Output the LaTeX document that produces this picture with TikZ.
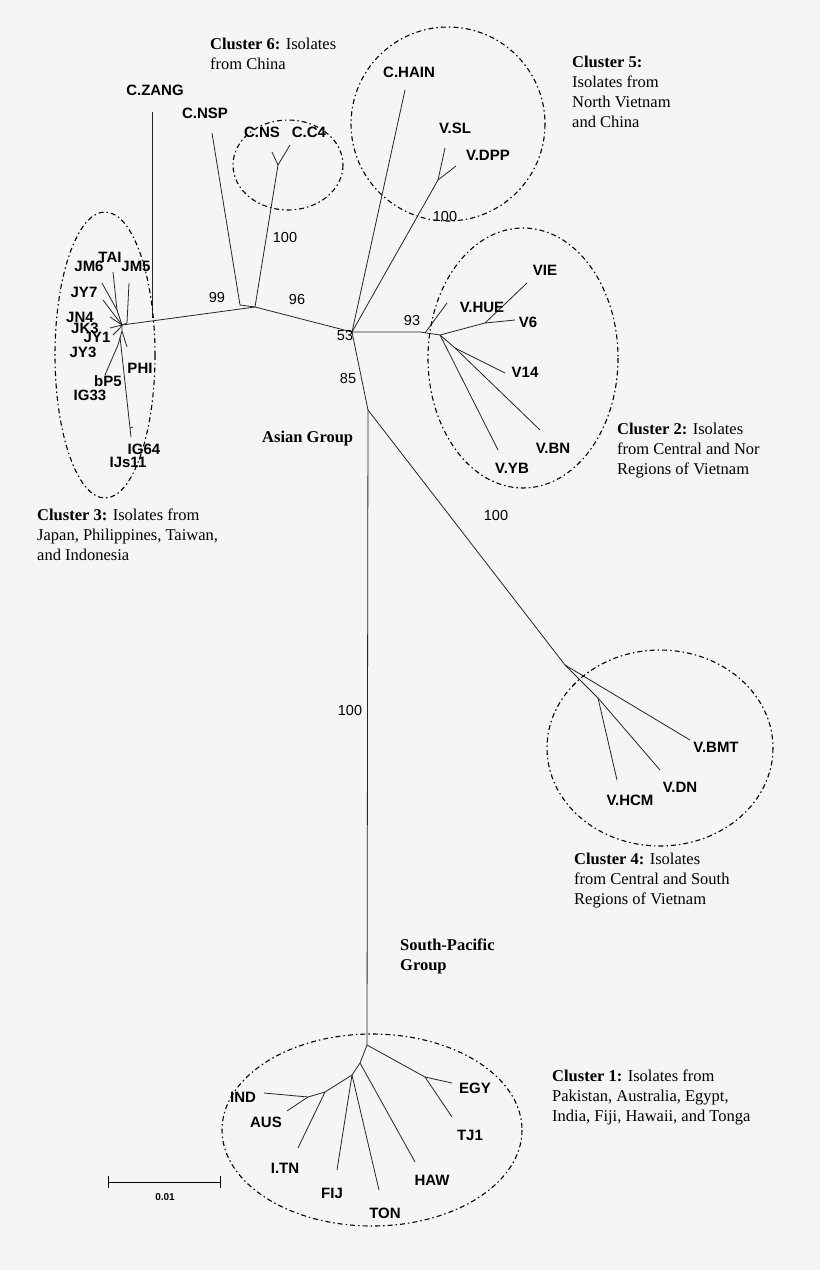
\documentclass[tikz,border=0pt]{standalone}
\usepackage{fontspec}
\setmainfont{Liberation Serif}
\setsansfont{Liberation Sans}
\begin{document}
\begin{tikzpicture}[x=1pt,y=-1pt,
 br/.style={line width=0.8pt,draw=black!85},
 lab/.style={font=\sffamily\bfseries\fontsize{15}{15}\selectfont,inner sep=0pt},
 num/.style={font=\sffamily\fontsize{14.5}{14.5}\selectfont,inner sep=0pt},
 captxt/.style={font=\fontsize{16.5}{20}\selectfont,align=left,anchor=north west,inner sep=0pt},
 clu/.style={line width=1.1pt,dash pattern=on 5pt off 3pt on 1.5pt off 3pt}]
\fill[white!96!black] (0,0) rectangle (820,1270);
\useasboundingbox (0,0) rectangle (820,1270);
% main nodes
\coordinate (h3) at (122,325);
\coordinate (n99) at (255,307);
\coordinate (n53) at (352,332);
\coordinate (n93) at (420,332);
\coordinate (h2) at (440,335);
\coordinate (n85) at (368,410);
\coordinate (h4) at (565,665);
\coordinate (h1) at (367,1045);
\draw[br] (h3) -- (n99) -- (n53) -- (n93) -- (h2);
\draw[br] (n53) -- (n85) -- (h4);
\draw[br] (n85) -- (h1);
% cluster 6
\draw[br] (152,112) -- (152,318);
\draw[br] (212,133) -- (240,305) -- (n99);
\coordinate (c6) at (278,165);
\draw[br] (n99) -- (c6) -- (272,152);
\draw[br] (c6) -- (290,145);
% cluster 5
\draw[br] (n53) -- (405,90);
\coordinate (c5) at (438,180);
\draw[br] (n53) -- (c5) -- (445,148);
\draw[br] (c5) -- (456,166);
% cluster 3
\draw[br] (h3) -- (117,310) -- (102,283);
\draw[br] (117,310) -- (113,272);
\draw[br] (h3) -- (127,323) -- (129,283);
\draw[br] (h3) -- (103,300);
\draw[br] (h3) -- (110,317);
\draw[br] (h3) -- (110,328);
\draw[br] (h3) -- (120,328) -- (113,335);
\draw[br] (h3) -- (122,331) -- (127,347);
\draw[br] (122,331) -- (118,345) -- (105,375);
\draw[br] (120,337) -- (131,437);
\draw[br] (130,428) -- (133,427);
% cluster 2
\draw[br] (425,333) -- (447,303);
\coordinate (c2a) at (485,323);
\coordinate (c2b) at (455,348);
\draw[br] (h2) -- (c2a) -- (527,283);
\draw[br] (c2a) -- (515,320);
\draw[br] (h2) -- (c2b) -- (505,373);
\draw[br] (c2b) -- (540,430);
\draw[br] (h2) -- (498,450);
% cluster 4
\coordinate (c4) at (598,698);
\draw[br] (h4) -- (c4) -- (617,780);
\draw[br] (c4) -- (660,770);
\draw[br] (h4) -- (690,740);
% cluster 1
\coordinate (e1) at (425,1077);
\coordinate (a1) at (360,1063);
\coordinate (a2) at (352,1075);
\coordinate (a3) at (325,1092);
\coordinate (a4) at (308,1097);
\draw[br] (h1) -- (e1) -- (452,1083);
\draw[br] (e1) -- (452,1117);
\draw[br] (h1) -- (a1) -- (a2) -- (a3) -- (a4) -- (264,1093);
\draw[br] (a4) -- (287,1111);
\draw[br] (a1) -- (415,1162);
\draw[br] (a2) -- (379,1190);
\draw[br] (a2) -- (337,1170);
\draw[br] (a3) -- (298,1148);
% ellipses
\draw[clu] (105,355) ellipse [x radius=50, y radius=143];
\draw[clu] (288,165) ellipse [x radius=55, y radius=45];
\draw[clu] (448,124) ellipse [x radius=97, y radius=97];
\draw[clu] (523,358) ellipse [x radius=95, y radius=130];
\draw[clu] (660,748) ellipse [x radius=113, y radius=98];
\draw[clu] (372,1130) ellipse [x radius=150, y radius=96];
% leaf labels
\node[lab] (l1) at (155,90) {C.ZANG};
\node[lab] (l2) at (205,113) {C.NSP};
\node[lab] (l3) at (262,132) {C.NS};
\node[lab] (l4) at (309,132) {C.C4};
\node[lab] (l5) at (409,72) {C.HAIN};
\node[lab] (l6) at (455,128) {V.SL};
\node[lab] (l7) at (488,155) {V.DPP};
\node[lab] (m1) at (110,257) {TAI};
\node[lab] (m2) at (89,266) {JM6};
\node[lab] (m3) at (136,266) {JM5};
\node[lab] (m4) at (84,292) {JY7};
\node[lab] (m5) at (80,317) {JN4};
\node[lab] (m6) at (85,328) {JK3};
\node[lab] (m7) at (97,337) {JY1};
\node[lab] (m8) at (83,352) {JY3};
\node[lab] (m9) at (140,368) {PHI};
\node[lab] (m10) at (108,381) {bP5};
\node[lab] (m11) at (90,395) {IG33};
\node[lab] (m12) at (144,449) {IG64};
\node[lab] (m13) at (128,462) {IJs11};
\node[lab] (v1) at (482,307) {V.HUE};
\node[lab] (v2) at (545,270) {VIE};
\node[lab] (v3) at (528,322) {V6};
\node[lab] (v4) at (525,372) {V14};
\node[lab] (v5) at (553,448) {V.BN};
\node[lab] (v6) at (512,468) {V.YB};
\node[lab] (v7) at (716,747) {V.BMT};
\node[lab] (v8) at (680,787) {V.DN};
\node[lab] (v9) at (630,800) {V.HCM};
\node[lab] (p1) at (475,1088) {EGY};
\node[lab] (p2) at (470,1135) {TJ1};
\node[lab] (p3) at (432,1180) {HAW};
\node[lab] (p4) at (385,1213) {TON};
\node[lab] (p5) at (332,1193) {FIJ};
\node[lab] (p6) at (285,1168) {I.TN};
\node[lab] (p7) at (266,1122) {AUS};
\node[lab] (p8) at (243,1097) {IND};
% bootstrap values
\node[num] (b1) at (217,298) {99};
\node[num] (b2) at (297,300) {96};
\node[num] (b3) at (285,238) {100};
\node[num] (b4) at (445,217) {100};
\node[num] (b5) at (345,336) {53};
\node[num] (b6) at (412,321) {93};
\node[num] (b7) at (348,378) {85};
\node[num] (b8) at (496,515) {100};
\node[num] (b9) at (350,710) {100};
% scale bar
\coordinate (s1) at (108,1182);
\coordinate (s2) at (220,1182);
\draw[line width=0.8pt] (s1) -- (s2);
\draw[line width=0.8pt] (108,1176) -- (108,1188) (220,1176) -- (220,1188);
\node[font=\sffamily\bfseries\fontsize{10}{10}\selectfont] (sl) at (165,1197) {0.01};
% captions
\node[captxt] (k6) at (210,38) {\textbf{Cluster 6:} Isolates\\from China};
\node[captxt] (k5) at (572,56) {\textbf{Cluster 5:}\\Isolates from\\North Vietnam\\and China};
\node[captxt] (k2) at (617,423) {\textbf{Cluster 2:} Isolates\\from Central and Nor\\Regions of Vietnam};
\node[captxt] (k3) at (37,509) {\textbf{Cluster 3:} Isolates from\\Japan, Philippines, Taiwan,\\and Indonesia};
\node[captxt] (k4) at (574,853) {\textbf{Cluster 4:} Isolates\\from Central and South\\Regions of Vietnam};
\node[captxt] (k1) at (552,1070) {\textbf{Cluster 1:} Isolates from\\Pakistan, Australia, Egypt,\\India, Fiji, Hawaii, and Tonga};
\node[captxt,font=\bfseries\fontsize{16.5}{20}\selectfont] (ag) at (262,431) {Asian Group};
\node[captxt,font=\bfseries\fontsize{16.5}{20}\selectfont] (sp) at (400,939) {South-Pacific\\Group};
\end{tikzpicture}
\end{document}
